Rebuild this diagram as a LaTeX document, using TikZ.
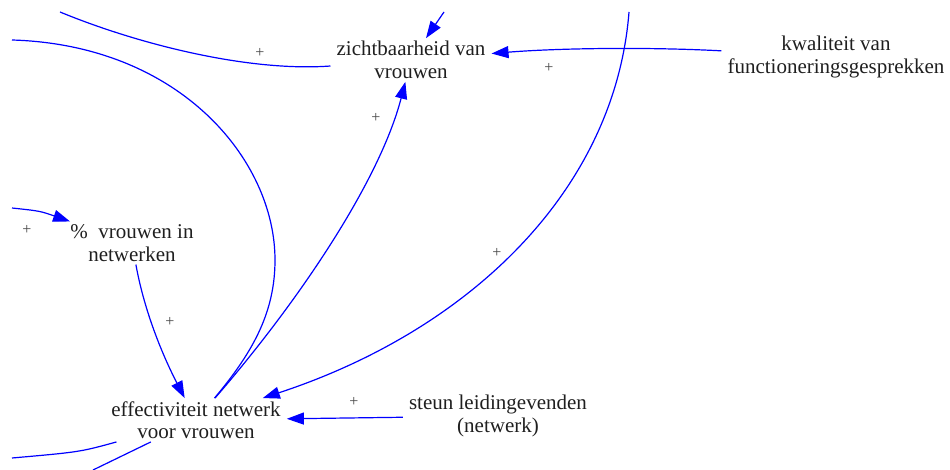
\documentclass[tikz,border=0pt]{standalone}
\usepackage{fontspec}
\setmainfont{Liberation Serif}
\usetikzlibrary{arrows.meta}

\begin{document}
\begin{tikzpicture}[
  x=1pt,y=-1pt,
  >={Triangle[length=17pt,width=12pt]},
  var/.style={align=center,inner xsep=6pt,inner ysep=3pt,text=black!88,
              font=\fontsize{21}{22.5}\selectfont},
  link/.style={->,draw=blue,line width=1.2pt},
  stub/.style={draw=blue,line width=1.2pt},
  pol/.style={text=black!72,font=\fontsize{16}{16}\selectfont,inner sep=0pt},
]
\useasboundingbox (0,0) rectangle (950,470);

% the variables
\node[var] (zicht) at (411,60)  {zichtbaarheid van\\vrouwen};
\node[var] (kwal)  at (836,57)  {kwaliteit van\\functioneringsgesprekken};
\node[var] (pct)   at (132,243) {\%~~vrouwen in\\netwerken};
\node[var] (eff)   at (196,420) {effectiviteit netwerk\\voor vrouwen};
\node[var] (steun) at (498,416) {steun leidingevenden\\(netwerk)};

% loose ends where links leave the cut-out
\coordinate (tl)   at (60,12);
\coordinate (lt)   at (12,40);
\coordinate (tin)  at (444,12);
\coordinate (lin)  at (12,208);
\coordinate (tr)   at (629,12);
\coordinate (bl)   at (12,458);
\coordinate (bm)   at (93,470);

% into zichtbaarheid
\draw[link] (tin) -- (zicht);
\draw[link] (kwal) .. controls (650,47) and (560,48) .. (zicht);
\draw[link] (eff) .. controls (300,300) and (380,180) .. (zicht);
\draw[stub] (zicht) .. controls (250,72) and (140,45) .. (tl);

% into % vrouwen in netwerken
\draw[link] (lin) .. controls (40,211) .. (pct);

% into effectiviteit
\draw[link] (pct) .. controls (145,315) and (165,360) .. (eff);
\draw[link] (tr) .. controls (615,190) and (470,330) .. (eff);
\draw[link] (steun) -- (eff);

% out of effectiviteit, running off the picture
\draw[stub] (eff) .. controls (255,350) and (275,310) .. (275,260)
                  .. controls (275,160) and (180,45) .. (lt);
\draw[stub] (eff) .. controls (80,452) .. (bl);
\draw[stub] (eff) -- (bm);

% polarities
\node[pol] (p1) at (260,53)  {+};
\node[pol] (p2) at (549,68)  {+};
\node[pol] (p3) at (376,118) {+};
\node[pol] (p4) at (497,253) {+};
\node[pol] (p5) at (27,230)  {+};
\node[pol] (p6) at (170,322) {+};
\node[pol] (p7) at (354,402) {+};

\end{tikzpicture}
\end{document}
